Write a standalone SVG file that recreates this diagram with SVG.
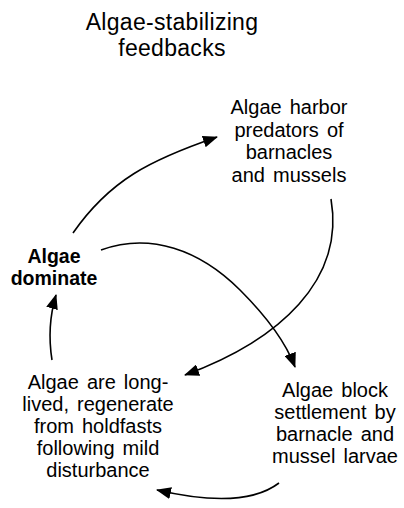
<svg xmlns="http://www.w3.org/2000/svg" width="404" height="508" viewBox="0 0 404 508">
  <defs>
    <marker id="head" markerUnits="userSpaceOnUse" markerWidth="16" markerHeight="12" refX="14" refY="6" orient="auto">
      <path d="M0,0 L15,6 L0,12 z" fill="#000"/>
    </marker>
    <style>
      .t { font-family: "Liberation Sans", Arial, Helvetica, sans-serif; fill: #000; text-anchor: middle; }
      .title { font-size: 23px; letter-spacing: 0.3px; }
      .body { font-size: 20px; word-spacing: 2.5px; }
      .bold { font-size: 19.5px; font-weight: bold; }
      .link { fill: none; stroke: #000; stroke-width: 1.6; marker-end: url(#head); }
    </style>
  </defs>

  <rect width="404" height="508" fill="#fff"/>

  <!-- heading -->
  <g id="title">
    <text class="t title" x="172" y="30">Algae-stabilizing</text>
    <text class="t title" x="172" y="56">feedbacks</text>
  </g>

  <!-- loop steps -->
  <g id="node-dominate">
    <text class="t bold" x="54" y="263">Algae</text>
    <text class="t bold" x="54" y="285">dominate</text>
  </g>

  <g id="node-harbor">
    <text class="t body" x="289" y="114">Algae harbor</text>
    <text class="t body" x="289" y="136.5">predators of</text>
    <text class="t body" x="289" y="159">barnacles</text>
    <text class="t body" x="289" y="181.5">and mussels</text>
  </g>

  <g id="node-block">
    <text class="t body" x="335" y="397">Algae block</text>
    <text class="t body" x="335" y="419">settlement by</text>
    <text class="t body" x="335" y="441">barnacle and</text>
    <text class="t body" x="335" y="463">mussel larvae</text>
  </g>

  <g id="node-longlived">
    <text class="t body" x="98" y="389">Algae are long-</text>
    <text class="t body" x="98" y="411">lived, regenerate</text>
    <text class="t body" x="98" y="433">from holdfasts</text>
    <text class="t body" x="98" y="455">following mild</text>
    <text class="t body" x="98" y="477">disturbance</text>
  </g>

  <!-- feedback arrows -->
  <g id="connectors">
    <path class="link" d="M73,233 C 110,180 150,160 217,137"/>
    <path class="link" d="M331,199 C 345,280 280,340 185,375"/>
    <path class="link" d="M101,250 C 150,232 200,250 240,290 C 265,315 285,340 295,367"/>
    <path class="link" d="M279,483 C 250,505 200,500 157,490"/>
    <path class="link" d="M52,360 C 48,335 50,315 56,295"/>
  </g>
</svg>
